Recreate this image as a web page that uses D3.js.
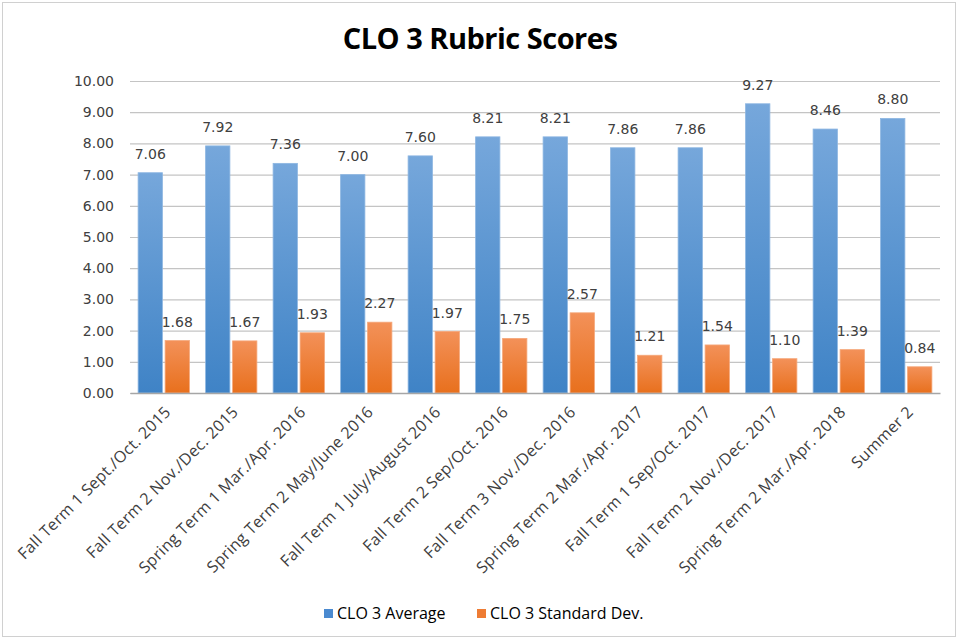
<!DOCTYPE html>
<html>
<head>
<meta charset="utf-8">
<script src="https://cdn.jsdelivr.net/npm/d3@7"></script>
<style>
  body { margin: 0; background: #fff; }
  svg { display: block; }
</style>
</head>
<body>
<div id="chart"></div>
<script>
// Terms covered by the rubric
const categories = [
  "Fall Term 1 Sept./Oct. 2015",
  "Fall Term 2 Nov./Dec. 2015",
  "Spring Term 1 Mar./Apr. 2016",
  "Spring Term 2 May/June 2016",
  "Fall Term 1 July/August 2016",
  "Fall Term 2 Sep/Oct. 2016",
  "Fall Term 3 Nov./Dec. 2016",
  "Spring Term 2 Mar./Apr. 2017",
  "Fall Term 1 Sep/Oct. 2017",
  "Fall Term 2 Nov./Dec. 2017",
  "Spring Term 2 Mar./Apr. 2018",
  "Summer 2"
];
const averages = [7.06, 7.92, 7.36, 7.00, 7.60, 8.21, 8.21, 7.86, 7.86, 9.27, 8.46, 8.80];
const stdDevs  = [1.68, 1.67, 1.93, 2.27, 1.97, 1.75, 2.57, 1.21, 1.54, 1.10, 1.39, 0.84];
const seriesNames = ["CLO 3 Average", "CLO 3 Standard Dev."];
const yTicks = [0, 1, 2, 3, 4, 5, 6, 7, 8, 9, 10];

const W = 959, H = 640;
const margin = { left: 130, right: 19, top: 81, bottom: 247 };
const plotW = W - margin.left - margin.right;
const plotH = H - margin.top - margin.bottom;

const svg = d3.select("#chart").append("svg")
  .attr("width", W).attr("height", H);

// Gradients for the bar fills
const defs = svg.append("defs");
function grad(id, top, bottom) {
  const g = defs.append("linearGradient").attr("id", id)
    .attr("x1", 0).attr("y1", 0).attr("x2", 0).attr("y2", 1);
  g.append("stop").attr("offset", "0%").attr("stop-color", top);
  g.append("stop").attr("offset", "100%").attr("stop-color", bottom);
}
grad("gBlue", "#76a7db", "#3f83c6");
grad("gOrange", "#f39159", "#e8701d");

// Outer frame
svg.append("rect")
  .attr("x", 2.5).attr("y", 2.5).attr("width", W - 6).attr("height", H - 6)
  .attr("fill", "#fff").attr("stroke", "#d0d0d0").attr("stroke-width", 1);

// Title
svg.append("text")
  .attr("x", 480).attr("y", 49)
  .attr("text-anchor", "middle")
  .style("font-family", "'Open Sans', Arial, sans-serif")
  .style("font-weight", "bold")
  .style("font-size", "29px")
  .style("letter-spacing", "-0.5px")
  .attr("fill", "#000")
  .text("CLO 3 Rubric Scores");

const g = svg.append("g").attr("transform", `translate(${margin.left},${margin.top})`);

const x0 = d3.scaleBand().domain(categories).range([0, plotW]).paddingInner(0.24).paddingOuter(0.12);
const x1 = d3.scaleBand().domain(seriesNames).range([0, x0.bandwidth()]).paddingInner(0.1);
const y = d3.scaleLinear().domain([0, 10]).range([plotH, 0]);

// Gridlines + y labels
const yAxis = d3.axisLeft(y).tickValues(yTicks).tickSize(-plotW).tickFormat(d3.format(".2f"));
const ya = g.append("g").call(yAxis);
ya.select(".domain").remove();
ya.selectAll(".tick line").attr("stroke", "#c4c4c4").attr("stroke-width", 1.2);
ya.selectAll(".tick text")
  .attr("x", -16)
  .attr("fill", "#404040")
  .style("font-family", "'DejaVu Sans', Verdana, sans-serif")
  .style("font-size", "14px");

// Bars
const rows = categories.map((c, i) => ({ cat: c, vals: [averages[i], stdDevs[i]] }));
const fills = ["url(#gBlue)", "url(#gOrange)"];
const strokes = ["#8db6e2", "#f5a77a"];
const groups = g.selectAll(".grp").data(rows).enter().append("g")
  .attr("transform", d => `translate(${x0(d.cat)},0)`);

groups.selectAll("rect").data(d => d.vals.map((v, k) => ({ v, k }))).enter().append("rect")
  .attr("x", d => x1(seriesNames[d.k]))
  .attr("y", d => y(d.v))
  .attr("width", x1.bandwidth())
  .attr("height", d => plotH - y(d.v))
  .attr("fill", d => fills[d.k])
  .attr("stroke", d => strokes[d.k])
  .attr("stroke-width", 0.8);

groups.selectAll("text.val").data(d => d.vals.map((v, k) => ({ v, k }))).enter().append("text")
  .attr("class", "val")
  .attr("x", d => x1(seriesNames[d.k]) + x1.bandwidth() / 2)
  .attr("y", d => y(d.v) - 14)
  .attr("text-anchor", "middle")
  .attr("fill", "#404040")
  .style("font-family", "'DejaVu Sans', Verdana, sans-serif")
  .style("font-size", "14px")
  .text(d => d.v.toFixed(2));

// X axis line and rotated category labels
const xa = g.append("g").attr("transform", `translate(0,${plotH})`)
  .call(d3.axisBottom(x0).tickSize(0).tickPadding(0));
xa.select(".domain").attr("stroke", "#a6a6a6").attr("stroke-width", 1.5);
xa.selectAll(".tick text")
  .attr("text-anchor", "end")
  .attr("dy", 0)
  .attr("transform", "translate(8,20) rotate(-45)")
  .attr("fill", "#404040")
  .style("font-family", "'Open Sans', 'Noto Sans', sans-serif")
  .style("font-size", "16px")
  .style("letter-spacing", "0.3px");

// Legend
const legend = svg.append("g");
const legendItems = [
  { name: seriesNames[0], color: "#4a8ad0", x: 324 },
  { name: seriesNames[1], color: "#ee7c34", x: 477 }
];
legendItems.forEach(it => {
  legend.append("rect").attr("x", it.x).attr("y", 609).attr("width", 9).attr("height", 9).attr("fill", it.color);
  legend.append("text").attr("x", it.x + 13).attr("y", 619)
    .attr("fill", "#000")
    .style("font-family", "'Open Sans', Arial, sans-serif")
    .style("font-size", "16px")
    .text(it.name);
});
</script>
</body>
</html>
